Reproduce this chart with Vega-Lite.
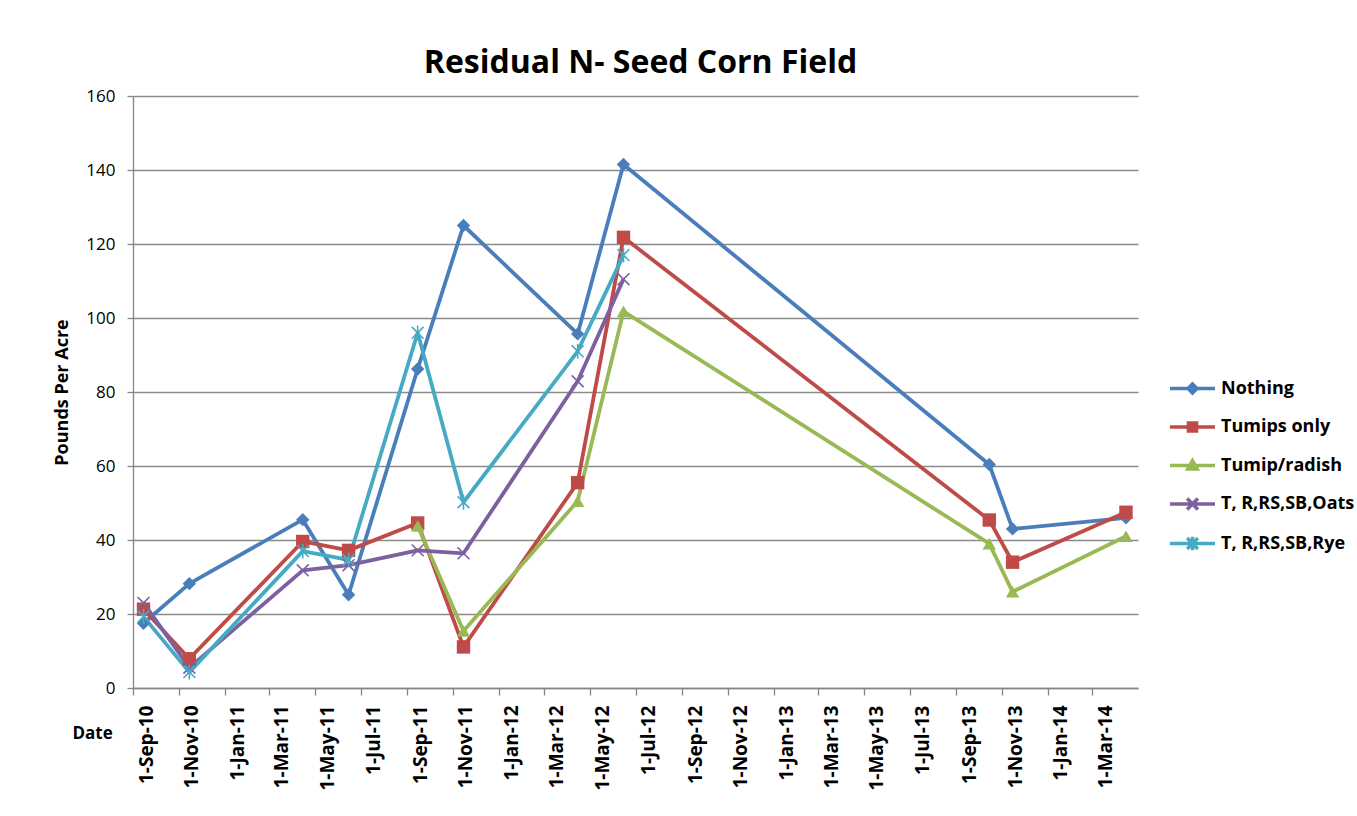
{
  "$schema": "https://vega.github.io/schema/vega-lite/v6.json",
  "width": 1005,
  "height": 592,
  "autosize": {"type": "none"},
  "padding": {"left": 133, "top": 96, "right": 219, "bottom": 128},
  "background": "white",
  "config": {"view": {"stroke": null}},
  "title": {
    "text": "Residual N- Seed Corn Field",
    "font": "Open Sans",
    "fontSize": 32,
    "fontWeight": "bold",
    "color": "black",
    "anchor": "middle",
    "baseline": "alphabetic",
    "offset": -18,
    "dx": 5
  },
  "data": {
    "values": [
      {"date": "2010-09-15", "series": "Nothing", "value": 17.5},
      {"date": "2010-11-15", "series": "Nothing", "value": 28.2},
      {"date": "2011-04-15", "series": "Nothing", "value": 45.5},
      {"date": "2011-06-15", "series": "Nothing", "value": 25.2},
      {"date": "2011-09-15", "series": "Nothing", "value": 86.2},
      {"date": "2011-11-15", "series": "Nothing", "value": 125.0},
      {"date": "2012-04-15", "series": "Nothing", "value": 95.7},
      {"date": "2012-06-15", "series": "Nothing", "value": 141.5},
      {"date": "2013-10-15", "series": "Nothing", "value": 60.4},
      {"date": "2013-11-15", "series": "Nothing", "value": 43.0},
      {"date": "2014-04-15", "series": "Nothing", "value": 46.0},
      {"date": "2010-09-15", "series": "Tumips only", "value": 21.3},
      {"date": "2010-11-15", "series": "Tumips only", "value": 7.9},
      {"date": "2011-04-15", "series": "Tumips only", "value": 39.6},
      {"date": "2011-06-15", "series": "Tumips only", "value": 37.2},
      {"date": "2011-09-15", "series": "Tumips only", "value": 44.6},
      {"date": "2011-11-15", "series": "Tumips only", "value": 11.1},
      {"date": "2012-04-15", "series": "Tumips only", "value": 55.5},
      {"date": "2012-06-15", "series": "Tumips only", "value": 121.8},
      {"date": "2013-10-15", "series": "Tumips only", "value": 45.4},
      {"date": "2013-11-15", "series": "Tumips only", "value": 34.0},
      {"date": "2014-04-15", "series": "Tumips only", "value": 47.5},
      {"date": "2011-09-15", "series": "Tumip/radish", "value": 43.8},
      {"date": "2011-11-15", "series": "Tumip/radish", "value": 15.4},
      {"date": "2012-04-15", "series": "Tumip/radish", "value": 50.5},
      {"date": "2012-06-15", "series": "Tumip/radish", "value": 101.8},
      {"date": "2013-10-15", "series": "Tumip/radish", "value": 39.0},
      {"date": "2013-11-15", "series": "Tumip/radish", "value": 26.0},
      {"date": "2014-04-15", "series": "Tumip/radish", "value": 41.0},
      {"date": "2010-09-15", "series": "T, R,RS,SB,Oats", "value": 23.0},
      {"date": "2010-11-15", "series": "T, R,RS,SB,Oats", "value": 5.5},
      {"date": "2011-04-15", "series": "T, R,RS,SB,Oats", "value": 31.8},
      {"date": "2011-06-15", "series": "T, R,RS,SB,Oats", "value": 33.2},
      {"date": "2011-09-15", "series": "T, R,RS,SB,Oats", "value": 37.2},
      {"date": "2011-11-15", "series": "T, R,RS,SB,Oats", "value": 36.4},
      {"date": "2012-04-15", "series": "T, R,RS,SB,Oats", "value": 82.9},
      {"date": "2012-06-15", "series": "T, R,RS,SB,Oats", "value": 110.5},
      {"date": "2010-09-15", "series": "T, R,RS,SB,Rye", "value": 19.3},
      {"date": "2010-11-15", "series": "T, R,RS,SB,Rye", "value": 4.3},
      {"date": "2011-04-15", "series": "T, R,RS,SB,Rye", "value": 37.0},
      {"date": "2011-06-15", "series": "T, R,RS,SB,Rye", "value": 34.6},
      {"date": "2011-09-15", "series": "T, R,RS,SB,Rye", "value": 96.0},
      {"date": "2011-11-15", "series": "T, R,RS,SB,Rye", "value": 50.2},
      {"date": "2012-04-15", "series": "T, R,RS,SB,Rye", "value": 91.0},
      {"date": "2012-06-15", "series": "T, R,RS,SB,Rye", "value": 117.0}
    ]
  },
  "encoding": {
    "x": {
      "field": "date",
      "type": "temporal",
      "scale": {
        "type": "utc",
        "domain": [
          {"year": 2010, "month": 9, "date": 1, "utc": true},
          {"year": 2014, "month": 5, "date": 1, "utc": true}
        ]
      },
      "axis": {
        "title": "Date",
        "titleFont": "Open Sans",
        "titleFontSize": 17,
        "titleFontWeight": "bold",
        "titleColor": "black",
        "titleAngle": 0,
        "titleAlign": "left",
        "titleBaseline": "middle",
        "titleX": -61,
        "titleY": 45,
        "values": [
          {"year": 2010, "month": 9, "date": 1, "utc": true},
          {"year": 2010, "month": 11, "date": 1, "utc": true},
          {"year": 2011, "month": 1, "date": 1, "utc": true},
          {"year": 2011, "month": 3, "date": 1, "utc": true},
          {"year": 2011, "month": 5, "date": 1, "utc": true},
          {"year": 2011, "month": 7, "date": 1, "utc": true},
          {"year": 2011, "month": 9, "date": 1, "utc": true},
          {"year": 2011, "month": 11, "date": 1, "utc": true},
          {"year": 2012, "month": 1, "date": 1, "utc": true},
          {"year": 2012, "month": 3, "date": 1, "utc": true},
          {"year": 2012, "month": 5, "date": 1, "utc": true},
          {"year": 2012, "month": 7, "date": 1, "utc": true},
          {"year": 2012, "month": 9, "date": 1, "utc": true},
          {"year": 2012, "month": 11, "date": 1, "utc": true},
          {"year": 2013, "month": 1, "date": 1, "utc": true},
          {"year": 2013, "month": 3, "date": 1, "utc": true},
          {"year": 2013, "month": 5, "date": 1, "utc": true},
          {"year": 2013, "month": 7, "date": 1, "utc": true},
          {"year": 2013, "month": 9, "date": 1, "utc": true},
          {"year": 2013, "month": 11, "date": 1, "utc": true},
          {"year": 2014, "month": 1, "date": 1, "utc": true},
          {"year": 2014, "month": 3, "date": 1, "utc": true}
        ],
        "labelExpr": "utcFormat(datum.value, '%-d-%b-%y')",
        "labelAngle": 270,
        "labelAlign": "right",
        "labelBaseline": "middle",
        "labelOffset": 13,
        "labelPadding": 10,
        "labelFont": "Open Sans",
        "labelFontSize": 19,
        "labelFontWeight": "bold",
        "labelColor": "black",
        "labelOverlap": false,
        "tickSize": 7,
        "tickColor": "#868686",
        "tickWidth": 1.3,
        "domainColor": "#868686",
        "domainWidth": 1.3,
        "grid": false
      }
    },
    "y": {
      "field": "value",
      "type": "quantitative",
      "scale": {"domain": [0, 160], "nice": false},
      "axis": {
        "title": "Pounds Per Acre",
        "titleFont": "Open Sans",
        "titleFontSize": 18,
        "titleFontWeight": "bold",
        "titleColor": "black",
        "titlePadding": 14,
        "values": [0, 20, 40, 60, 80, 100, 120, 140, 160],
        "labelFont": "Open Sans",
        "labelFontSize": 17,
        "labelColor": "black",
        "labelPadding": 12,
        "tickSize": 6,
        "tickColor": "#868686",
        "tickWidth": 1.3,
        "domainColor": "#868686",
        "domainWidth": 1.3,
        "grid": true,
        "gridColor": "#8a8a8a",
        "gridWidth": 1.3
      }
    },
    "color": {
      "field": "series",
      "type": "nominal",
      "scale": {
        "domain": ["Nothing", "Tumips only", "Tumip/radish", "T, R,RS,SB,Oats", "T, R,RS,SB,Rye"],
        "range": ["#4A7EBB", "#BE4B48", "#98B954", "#7D60A0", "#46AAC5"]
      },
      "legend": null
    }
  },
  "layer": [
    {
      "mark": {"type": "line", "strokeWidth": 3.8, "strokeJoin": "round"},
      "encoding": {
        "color": {
          "field": "series",
          "type": "nominal",
          "legend": {
            "title": null,
            "orient": "none",
            "legendX": 1035,
            "legendY": 268,
            "symbolSize": 2025,
            "symbolStrokeWidth": 3.5,
            "labelFont": "Open Sans",
            "labelFontSize": 18,
            "labelFontWeight": "bold",
            "labelColor": "black",
            "labelOffset": 4,
            "rowPadding": 2.5,
            "encode": {
              "symbols": {
                "update": {
                  "shape": {"signal": "datum.value === 'Nothing' ? 'M-1,0H1M0,-0.2L0.2,0L0,0.2L-0.2,0Z' : datum.value === 'Tumips only' ? 'M-1,0H1M-0.18,-0.18H0.18V0.18H-0.18Z' : datum.value === 'Tumip/radish' ? 'M-1,0H1M0,-0.22L0.21,0.16H-0.21Z' : datum.value === 'T, R,RS,SB,Oats' ? 'M-1,0H1M-0.24,-0.24L0.24,0.24M-0.24,0.24L0.24,-0.24' : 'M-1,0H1M-0.24,-0.24L0.24,0.24M-0.24,0.24L0.24,-0.24M0,-0.3V0.3'"},
                  "fill": {"scale": "color", "field": "value"},
                  "stroke": {"scale": "color", "field": "value"},
                  "strokeWidth": {"value": 3.5},
                  "opacity": {"value": 1}
                }
              }
            }
          }
        }
      }
    },
    {
      "transform": [{"filter": {"field": "series", "equal": "Nothing"}}],
      "mark": {"type": "point", "filled": true, "opacity": 1, "size": 180, "shape": "diamond"}
    },
    {
      "transform": [{"filter": {"field": "series", "equal": "Tumips only"}}],
      "mark": {"type": "point", "filled": true, "opacity": 1, "size": 180, "shape": "square"}
    },
    {
      "transform": [{"filter": {"field": "series", "equal": "Tumip/radish"}}],
      "mark": {"type": "point", "filled": true, "opacity": 1, "size": 180, "shape": "triangle-up"}
    },
    {
      "transform": [{"filter": {"field": "series", "equal": "T, R,RS,SB,Oats"}}],
      "mark": {"type": "point", "filled": false, "opacity": 1, "size": 140, "strokeWidth": 1.6, "shape": "M-1,-1L1,1M-1,1L1,-1"}
    },
    {
      "transform": [{"filter": {"field": "series", "equal": "T, R,RS,SB,Rye"}}],
      "mark": {"type": "point", "filled": false, "opacity": 1, "size": 140, "strokeWidth": 1.6, "shape": "M-1,-1L1,1M-1,1L1,-1M0,-1.25V1.25"}
    }
  ]
}
